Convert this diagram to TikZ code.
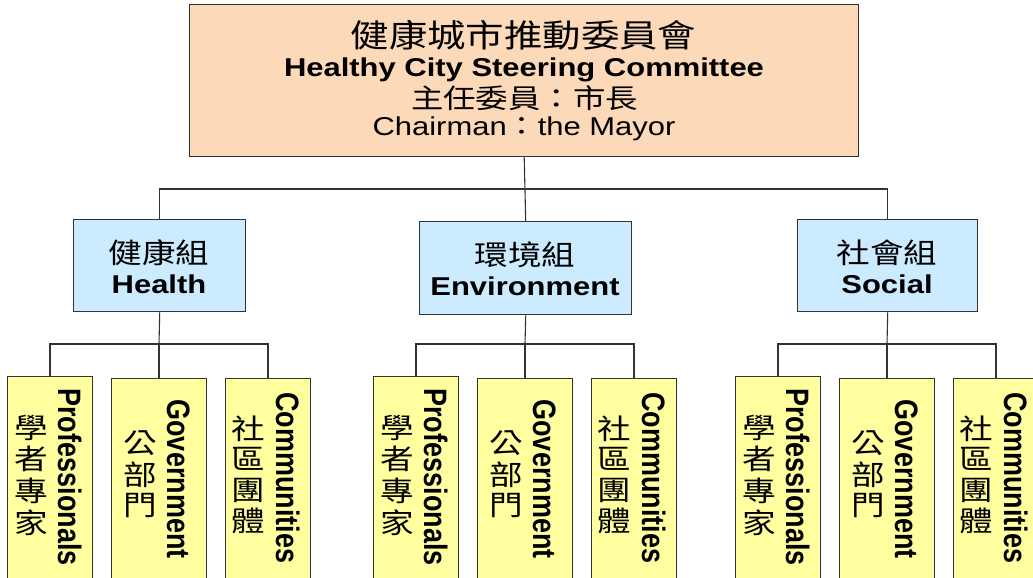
\documentclass[tikz,border=0pt]{standalone}
\usepackage{fontspec}
\usepackage{graphicx}
\setmainfont{Liberation Sans}
\newfontfamily\cjk{Noto Sans CJK TC}
\definecolor{peach}{HTML}{FCD9B8}
\definecolor{skyfill}{HTML}{CCEBFF}
\definecolor{lemon}{HTML}{FFFFA0}
\definecolor{edge}{HTML}{333333}
\newcommand{\hs}[1]{\scalebox{1.2}[1]{#1}}
\newcommand{\vtext}[1]{\scalebox{1.2}[1]{\rotatebox{-90}{#1}}}
\newcommand{\zhcol}[4]{\hs{\begin{tabular}{@{}c@{}}#1\\#2\\#3\\#4\end{tabular}}}
\newcommand{\zhcolthree}[3]{\hs{\begin{tabular}{@{}c@{}}#1\\#2\\#3\end{tabular}}}
\begin{document}
\begin{tikzpicture}[x=1pt,y=-1pt,
  boxbase/.style={draw=edge, line width=1.4pt, inner sep=0pt, anchor=north west},
  topbox/.style={boxbase, fill=peach},
  groupbox/.style={boxbase, fill=skyfill},
  memberbox/.style={boxbase, fill=lemon},
  conn/.style={draw=edge, line width=1.1pt},
  lbl/.style={inner sep=0pt, text=black},
  zhbig/.style={lbl, font=\cjk\fontsize{32}{32}\selectfont},
  zhmid/.style={lbl, font=\cjk\fontsize{28}{28}\selectfont},
  zhsmall/.style={lbl, font=\cjk\fontsize{28}{27}\selectfont},
  enbold/.style={lbl, anchor=base, font=\bfseries\fontsize{25.8}{26}\selectfont},
  enreg/.style={lbl, anchor=base, font=\fontsize{25.8}{26}\selectfont},
  envert/.style={lbl, font=\bfseries\fontsize{27}{27}\selectfont},
]
\useasboundingbox (0,0) rectangle (1033,578);
\clip (0,0) rectangle (1033,578);

\coordinate (topbus) at (524,189);

% boxes of the two upper levels
\node[topbox, minimum width=669pt, minimum height=152pt] (top) at (189,4) {};
\node[groupbox, minimum width=172pt, minimum height=92pt] (health) at (73,219) {};
\node[groupbox, minimum width=212pt, minimum height=93pt] (env) at (419,221) {};
\node[groupbox, minimum width=180pt, minimum height=92pt] (social) at (797,219) {};

\draw[conn] (top.south) -- (env.north);
\draw[conn] (health.north) -- (health.north |- topbus) -- (social.north |- topbus) -- (social.north);

% top box text
\node[zhbig] (t1) at (523.5,35.5) {\hs{健康城市推動委員會}};
\node[enbold] (t2) at (524,76.5) {\hs{Healthy City Steering Committee}};
\node[zhmid, font=\cjk\fontsize{27}{27}\selectfont] (t3) at (524.5,98.3) {\hs{主任委員：市長}};
\node[enreg] (t4) at (524,135.5) {\hs{Chairman{\cjk ：}the Mayor}};

% group box texts
\node[zhmid] (health-zh) at (159,252.5) {\hs{健康組}};
\node[enbold] (health-en) at (159,293) {\hs{Health}};
\node[zhmid] (env-zh) at (525,254.5) {\hs{環境組}};
\node[enbold] (env-en) at (525,295) {\hs{Environment}};
\node[zhmid] (social-zh) at (887,252.5) {\hs{社會組}};
\node[enbold] (social-en) at (887,293) {\hs{Social}};

% member boxes
\foreach \g/\cx/\parent in {h/159/health, e/525/env, s/887/social}{
  \coordinate (\g bus) at (\cx,344);
  \draw[conn] (\parent.south) -- (\g bus);
  \node[memberbox, anchor=north, minimum width=85pt, minimum height=208pt] (\g p) at (\cx-109,376) {};
  \node[memberbox, anchor=north, minimum width=95pt, minimum height=206pt] (\g g) at (\cx,378) {};
  \node[memberbox, anchor=north, minimum width=85pt, minimum height=206pt] (\g c) at (\cx+109,378) {};
  \draw[conn] (\g p.north) -- (\g p.north |- \g bus) -- (\g c.north |- \g bus) -- (\g c.north);
  \draw[conn] (\g bus) -- (\g g.north);
  \node[zhsmall] (\g p-zh) at (\cx-128,478) {\zhcol{學}{者}{專}{家}};
  \node[envert] (\g p-en) at (\cx-89,477) {\vtext{Professionals}};
  \node[zhsmall] (\g g-zh) at (\cx-19,477) {\zhcolthree{公}{部}{門}};
  \node[envert] (\g g-en) at (\cx+20,479) {\vtext{Government}};
  \node[zhsmall] (\g c-zh) at (\cx+89,478) {\zhcol{社}{區}{團}{體}};
  \node[envert] (\g c-en) at (\cx+129,478) {\vtext{Communities}};
}
\end{tikzpicture}
\end{document}
